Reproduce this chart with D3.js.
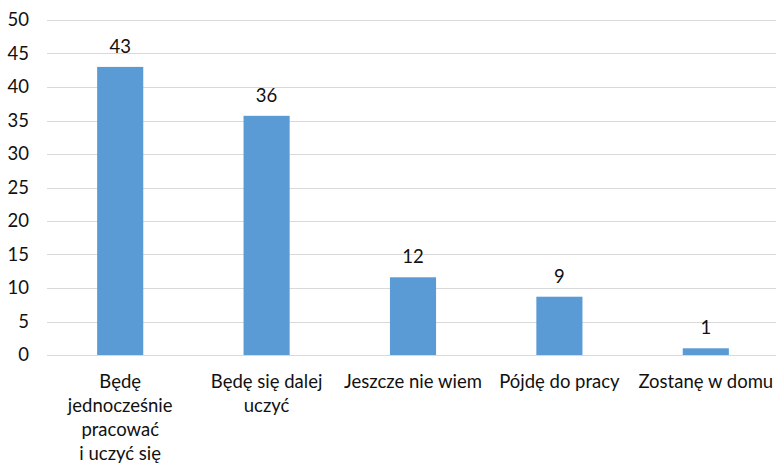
<!DOCTYPE html>
<html>
<head>
<meta charset="utf-8">
<script src="https://cdn.jsdelivr.net/npm/d3@7"></script>
<style>
  body { margin: 0; background: #fff; }
  text { font-family: Lato, "Open Sans", sans-serif; fill: #111; }
</style>
</head>
<body>
<div class="chart"></div>
<script>
// data
const categories = [
    ["Będę", "jednocześnie", "pracować", "i uczyć się"],
    ["Będę się dalej", "uczyć"],
    ["Jeszcze nie wiem"],
    ["Pójdę do pracy"],
    ["Zostanę w domu"]
];
const values = [43, 35.7, 11.6, 8.7, 1.0];
const valueLabels = ["43", "36", "12", "9", "1"];
const yTicks = [0, 5, 10, 15, 20, 25, 30, 35, 40, 45, 50];

const width = 776, height = 464;
const fontSize = "18.5px";

let svg = d3.select(".chart")
    .append("svg")
        .attr("width", width)
        .attr("height", height);

let xScale = d3.scaleBand()
    .domain(d3.range(categories.length))
    .range([47, 779])
    .paddingInner(0.685)
    .paddingOuter(0.3425);

let yScale = d3.scaleLinear()
    .domain([0, 50])
    .range([355, 20]);

// gridlines
svg.append("g")
    .selectAll("line")
    .data(yTicks)
    .enter()
        .append("line")
            .attr("x1", 47)
            .attr("x2", width)
            .attr("y1", d => Math.round(yScale(d)) + 0.5)
            .attr("y2", d => Math.round(yScale(d)) + 0.5)
            .attr("stroke", "#d9d9d9")
            .attr("stroke-width", 1);

// y axis labels
let yAxis = svg.append("g")
    .attr("transform", "translate(35,0)")
    .call(d3.axisLeft(yScale).tickValues(yTicks).tickSize(0).tickPadding(6));
yAxis.select(".domain").remove();
yAxis.selectAll("text")
    .style("font-size", fontSize)
    .style("font-family", "Lato, 'Open Sans', sans-serif")
    .attr("fill", "#111");

// bars
svg.append("g")
    .selectAll("rect")
    .data(values)
    .enter()
        .append("rect")
            .attr("x", (d, i) => xScale(i))
            .attr("width", xScale.bandwidth())
            .attr("y", d => yScale(d))
            .attr("height", d => yScale(0) - yScale(d))
            .attr("fill", "#5b9bd5");

// value labels
svg.append("g")
    .selectAll("text")
    .data(values)
    .enter()
        .append("text")
            .attr("x", (d, i) => xScale(i) + xScale.bandwidth() / 2)
            .attr("y", d => yScale(d) - 14)
            .attr("text-anchor", "middle")
            .style("font-size", fontSize)
            .text((d, i) => valueLabels[i]);

// category labels
let catGroups = svg.append("g")
    .selectAll("text")
    .data(categories)
    .enter()
        .append("text")
            .attr("text-anchor", "middle")
            .style("font-size", fontSize);

catGroups.selectAll("tspan")
    .data((d, i) => d.map(line => ({ line: line, i: i })))
    .enter()
        .append("tspan")
            .attr("x", d => xScale(d.i) + xScale.bandwidth() / 2)
            .attr("y", (d, j) => 388 + j * 24)
            .text(d => d.line);
</script>
</body>
</html>
